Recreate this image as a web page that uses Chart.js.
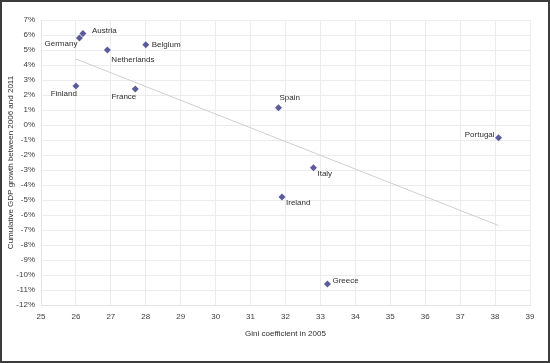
<!DOCTYPE html>
<html>
<head>
<meta charset="utf-8">
<script src="https://cdn.jsdelivr.net/npm/chart.js@4"></script>
<style>
  html, body { margin: 0; padding: 0; background: #fff; }
  #frame {
    width: 550px; height: 363px; box-sizing: border-box;
    border: 2px solid #3c3c3c; background: #fff;
  }
  #frame canvas { display: block; }
</style>
</head>
<body>
<div id="frame"><canvas id="gini-chart" width="546" height="359"></canvas></div>
<script>
// Données
const countries = ["Austria", "Germany", "Belgium", "Netherlands", "Finland", "France",
                   "Spain", "Portugal", "Italy", "Ireland", "Greece"];
const gini = [26.2, 26.1, 28.0, 26.9, 26.0, 27.7, 31.8, 38.1, 32.8, 31.9, 33.2];
const gdpGrowth = [6.1, 5.8, 5.35, 5.0, 2.6, 2.4, 1.15, -0.85, -2.85, -4.8, -10.6];

// Droite de tendance (début / fin)
const trendX = [26.0, 38.1];
const trendY = [4.4, -6.7];

// Placement des étiquettes autour des points (px)
const labelPlacement = {
  Austria:     { dx: 9,  dy: -3, align: "left" },
  Germany:     { dx: -2, dy: 6,  align: "right" },
  Belgium:     { dx: 6,  dy: 0,  align: "left" },
  Netherlands: { dx: 4,  dy: 10, align: "left" },
  Finland:     { dx: 1,  dy: 8,  align: "right" },
  France:      { dx: 1,  dy: 8,  align: "right" },
  Spain:       { dx: 1,  dy: -10, align: "left" },
  Portugal:    { dx: -4, dy: -3, align: "right" },
  Italy:       { dx: 4,  dy: 6,  align: "left" },
  Ireland:     { dx: 4,  dy: 6,  align: "left" },
  Greece:      { dx: 5,  dy: -3, align: "left" }
};

const FONT = '"Liberation Sans", Arial, sans-serif';

// --- étiquettes des pays à côté des losanges ---
const pointLabelPlugin = {
  id: "pointLabels",
  afterDatasetsDraw(chart) {
    const ctx = chart.ctx;
    const meta = chart.getDatasetMeta(0);
    ctx.save();
    ctx.font = "8px " + FONT;
    ctx.fillStyle = "#2e2e2e";
    ctx.textBaseline = "middle";
    meta.data.forEach((pt, i) => {
      const place = labelPlacement[countries[i]];
      ctx.textAlign = place.align;
      ctx.fillText(countries[i], pt.x + place.dx, pt.y + place.dy);
    });
    ctx.restore();
  }
};

new Chart(document.getElementById("gini-chart"), {
  type: "scatter",
  data: {
    datasets: [
      {
        label: "Countries",
        data: gini.map((g, i) => ({ x: g, y: gdpGrowth[i] })),
        pointStyle: "rectRot",
        pointRadius: 3.5,
        backgroundColor: "#5b5b9c",
        borderColor: "#5b5b9c",
        borderWidth: 0
      },
      {
        label: "Trend",
        type: "line",
        data: trendX.map((x, i) => ({ x: x, y: trendY[i] })),
        borderColor: "#cfcfcf",
        borderWidth: 1,
        pointRadius: 0,
        fill: false
      }
    ]
  },
  plugins: [pointLabelPlugin],
  options: {
    responsive: false,
    animation: false,
    layout: { padding: { left: 0, top: 18, right: 18, bottom: 22 } },
    plugins: { legend: { display: false }, tooltip: { enabled: false } },
    scales: {
      x: {
        type: "linear",
        min: 25, max: 39,
        ticks: { stepSize: 1, color: "#3c3c3c", font: { size: 8, family: FONT }, padding: 7 },
        grid: { color: "#ececec", drawTicks: false },
        border: { color: "#e4e4e4" },
        title: { display: true, text: "Gini coefficient in 2005", color: "#2e2e2e",
                 font: { size: 8, family: FONT }, padding: { top: 4, bottom: 0 } },
        afterFit: scale => { scale.height = 34; }
      },
      y: {
        min: -12, max: 7,
        ticks: { stepSize: 1, color: "#3c3c3c", font: { size: 8, family: FONT }, padding: 6,
                 callback: v => v + "%" },
        grid: { color: "#ececec", drawTicks: false },
        border: { color: "#e4e4e4" },
        title: { display: true, text: "Cumulative GDP growth between 2006 and 2011", color: "#2e2e2e",
                 font: { size: 8, family: FONT }, padding: { top: 4, bottom: 0 } },
        afterFit: scale => { scale.width = 39; }
      }
    }
  }
});
</script>
</body>
</html>
